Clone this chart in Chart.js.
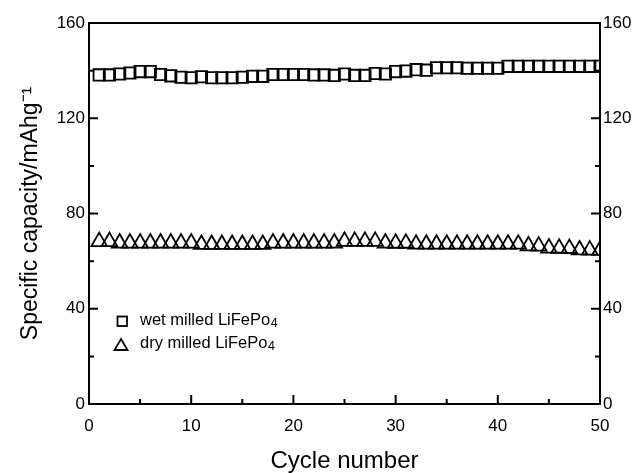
<!DOCTYPE html>
<html>
<head>
<meta charset="utf-8">
<script src="https://cdn.jsdelivr.net/npm/chart.js@4"></script>
<style>
  html, body { margin: 0; padding: 0; background: #fff; }
</style>
</head>
<body>
<canvas id="grafico" width="633" height="473"></canvas>
<script>
// dados
const ciclos = [1, 2, 3, 4, 5, 6, 7, 8, 9, 10, 11, 12, 13, 14, 15, 16, 17, 18, 19, 20, 21, 22, 23, 24, 25,
  26, 27, 28, 29, 30, 31, 32, 33, 34, 35, 36, 37, 38, 39, 40, 41, 42, 43, 44, 45, 46, 47, 48, 49, 50];
const wetMilled = [138.2, 138.2, 138.6, 139.0, 139.6, 139.6, 138.4, 137.8, 137.2, 137.0,
  137.4, 137.0, 137.0, 137.0, 137.2, 137.6, 137.6, 138.4, 138.4, 138.4,
  138.4, 138.2, 138.2, 138.0, 138.6, 138.0, 138.0, 138.8, 138.6, 139.6,
  139.8, 140.4, 140.2, 141.2, 141.2, 141.2, 141.0, 141.0, 141.0, 141.0,
  141.8, 141.8, 141.8, 141.8, 141.8, 141.8, 141.8, 141.8, 141.8, 141.8];
const dryMilled = [68.2, 68.2, 67.6, 67.6, 67.6, 67.6, 67.6, 67.6, 67.6, 67.6,
  67.0, 67.0, 67.0, 67.0, 67.0, 67.0, 67.0, 67.6, 67.6, 67.6,
  67.6, 67.6, 67.6, 67.6, 68.3, 68.3, 68.3, 68.3, 67.6, 67.5,
  67.5, 67.1, 67.1, 67.1, 67.1, 67.1, 67.1, 67.1, 67.1, 67.1,
  67.1, 67.1, 66.4, 66.3, 65.5, 65.4, 65.3, 64.7, 64.6, 64.5];
const xTicks = [0, 10, 20, 30, 40, 50];
const yTicks = [0, 40, 80, 120, 160];
const legendas = ["wet milled LiFePo", "dry milled LiFePo"];

const fonte = "'Liberation Sans', Arial, sans-serif";

// moldura de cima, ticks para dentro e legenda dentro do grafico
const molduraETicks = {
  id: "molduraETicks",
  afterDraw(chart) {
    const { ctx, chartArea: a, scales } = chart;
    ctx.save();
    ctx.strokeStyle = "#000";
    ctx.lineWidth = 2;
    ctx.beginPath();
    ctx.moveTo(a.left - 1, a.top);
    ctx.lineTo(a.right + 1, a.top);
    for (let v = 0; v <= 50; v += 5) {
      const px = scales.x.getPixelForValue(v);
      const len = v % 10 === 0 ? 9 : 5;
      ctx.moveTo(px, a.bottom);
      ctx.lineTo(px, a.bottom - len);
    }
    for (let v = 0; v <= 160; v += 20) {
      const py = scales.y.getPixelForValue(v);
      const len = v % 40 === 0 ? 9 : 5;
      ctx.moveTo(a.left, py);
      ctx.lineTo(a.left + len, py);
      ctx.moveTo(a.right, py);
      ctx.lineTo(a.right - len, py);
    }
    ctx.stroke();

    // legenda
    ctx.lineWidth = 1.8;
    ctx.strokeRect(117.5, 316.5, 9.5, 9.5);
    ctx.beginPath();
    ctx.moveTo(121, 339);
    ctx.lineTo(127.5, 350);
    ctx.lineTo(114.5, 350);
    ctx.closePath();
    ctx.stroke();

    ctx.fillStyle = "#000";
    ctx.textBaseline = "alphabetic";
    ctx.textAlign = "left";
    const linhas = [325, 348];
    legendas.forEach((txt, i) => {
      ctx.font = "16.5px " + fonte;
      ctx.fillText(txt, 140, linhas[i]);
      const w = ctx.measureText(txt).width;
      ctx.font = "12.5px " + fonte;
      ctx.fillText("4", 140 + w + 0.5, linhas[i] + 2);
    });
    ctx.restore();
  }
};

const eixoTicks = (valores) => (s) => { s.ticks = valores.map(v => ({ value: v })); };

new Chart(document.getElementById("grafico"), {
  type: "scatter",
  data: {
    datasets: [
      {
        label: legendas[0] + "4",
        data: ciclos.map((c, i) => ({ x: c, y: wetMilled[i] })),
        pointStyle: "rect",
        pointRadius: 8,
        borderWidth: 1.8,
        borderColor: "#000",
        backgroundColor: "rgba(0,0,0,0)"
      },
      {
        label: legendas[1] + "4",
        data: ciclos.map((c, i) => ({ x: c, y: dryMilled[i] })),
        pointStyle: "triangle",
        pointRadius: 9,
        borderWidth: 1.8,
        borderColor: "#000",
        backgroundColor: "rgba(0,0,0,0)"
      }
    ]
  },
  options: {
    responsive: false,
    animation: false,
    layout: { padding: { top: 23, left: 0, right: 0, bottom: 0 } },
    plugins: {
      legend: { display: false },
      tooltip: { enabled: false }
    },
    scales: {
      x: {
        type: "linear",
        position: "bottom",
        min: 0,
        max: 50,
        afterBuildTicks: eixoTicks(xTicks),
        afterFit: s => { s.height = 69; },
        grid: { display: false, drawTicks: false },
        border: { display: true, color: "#000", width: 2 },
        ticks: { color: "#000", font: { family: fonte, size: 17 }, padding: 12, maxRotation: 0 },
        title: {
          display: true,
          text: "Cycle number",
          color: "#000",
          font: { family: fonte, size: 24, lineHeight: 1 },
          padding: 0
        }
      },
      y: {
        type: "linear",
        position: "left",
        min: 0,
        max: 160,
        afterBuildTicks: eixoTicks(yTicks),
        afterFit: s => { s.width = 89; },
        grid: { display: false, drawTicks: false },
        border: { display: true, color: "#000", width: 2 },
        ticks: { color: "#000", font: { family: fonte, size: 17 }, padding: 4 },
        title: {
          display: true,
          text: "Specific capacity/mAhg\u207B\u00B9",
          color: "#000",
          font: { family: fonte, size: 23, lineHeight: 1 },
          padding: { top: 19, bottom: 0 }
        }
      },
      y2: {
        type: "linear",
        position: "right",
        min: 0,
        max: 160,
        afterBuildTicks: eixoTicks(yTicks),
        afterFit: s => { s.width = 33; },
        grid: { display: false, drawTicks: false },
        border: { display: true, color: "#000", width: 2 },
        ticks: { color: "#000", font: { family: fonte, size: 17 }, padding: 3 }
      }
    }
  },
  plugins: [molduraETicks]
});
</script>
</body>
</html>
